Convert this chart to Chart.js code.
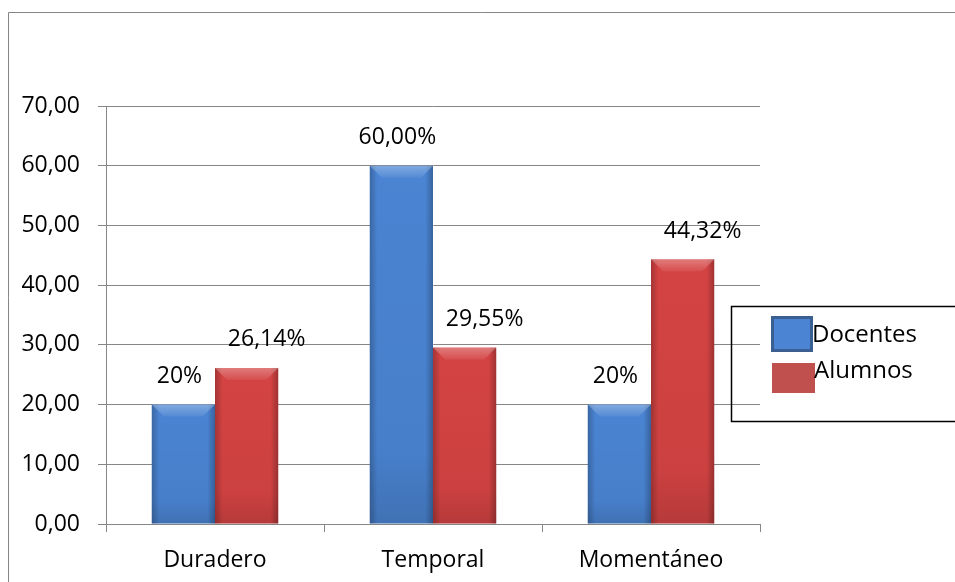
<!DOCTYPE html>
<html>
<head>
<meta charset="utf-8">
<script src="https://cdn.jsdelivr.net/npm/chart.js@4/dist/chart.umd.min.js"></script>
<style>
  body { margin: 0; background: #fff; }
</style>
</head>
<body>
<canvas id="grafico" width="955" height="582"></canvas>
<script>
// Datos
const categorias = ['Duradero', 'Temporal', 'Momentáneo'];
const nombresSeries = ['Docentes', 'Alumnos'];
const docentes = [20, 60, 20];
const alumnos = [26.14, 29.55, 44.32];
const etiquetasDocentes = ['20%', '60,00%', '20%'];
const etiquetasAlumnos = ['26,14%', '29,55%', '44,32%'];
const ticksY = [0, 10, 20, 30, 40, 50, 60, 70];

const fuente = "'Open Sans', sans-serif";
const gris = '#868686';

// Marco exterior gris (solo borde izquierdo y superior visibles)
const marco = {
    id: 'marco',
    beforeDraw(chart) {
        const ctx = chart.ctx;
        ctx.save();
        ctx.strokeStyle = gris;
        ctx.lineWidth = 1;
        ctx.beginPath();
        ctx.moveTo(8.5, chart.height);
        ctx.lineTo(8.5, 12.5);
        ctx.lineTo(chart.width, 12.5);
        ctx.stroke();
        ctx.restore();
    }
};

// Sombreado tipo bisel sobre cada barra
const bisel = {
    id: 'bisel',
    afterDatasetsDraw(chart) {
        const ctx = chart.ctx;
        chart.data.datasets.forEach((ds, di) => {
            chart.getDatasetMeta(di).data.forEach(el => {
                const p = el.getProps(['x', 'y', 'width', 'base'], true);
                const left = p.x - p.width / 2;
                const top = Math.min(p.y, p.base);
                const h = Math.abs(p.base - p.y);
                ctx.save();
                let g = ctx.createLinearGradient(left, 0, left + p.width, 0);
                g.addColorStop(0, 'rgba(0,0,0,0.22)');
                g.addColorStop(0.12, 'rgba(0,0,0,0)');
                g.addColorStop(0.88, 'rgba(0,0,0,0)');
                g.addColorStop(1, 'rgba(0,0,0,0.25)');
                ctx.fillStyle = g;
                ctx.fillRect(left, top, p.width, h);
                let gv = ctx.createLinearGradient(0, top, 0, top + h);
                gv.addColorStop(0, 'rgba(0,0,0,0)');
                gv.addColorStop(0.8, 'rgba(0,0,0,0.04)');
                gv.addColorStop(1, 'rgba(0,0,0,0.14)');
                ctx.fillStyle = gv;
                ctx.fillRect(left, top, p.width, h);
                // bisel superior
                const b = Math.min(12, h / 2);
                ctx.beginPath();
                ctx.moveTo(left, top);
                ctx.lineTo(left + p.width, top);
                ctx.lineTo(left + p.width - b, top + b);
                ctx.lineTo(left + b, top + b);
                ctx.closePath();
                let gt = ctx.createLinearGradient(0, top, 0, top + b);
                gt.addColorStop(0, 'rgba(255,255,255,0.3)');
                gt.addColorStop(1, 'rgba(255,255,255,0.06)');
                ctx.fillStyle = gt;
                ctx.fill();
                ctx.restore();
            });
        });
    }
};

// Etiquetas de valor sobre las barras
const etiquetas = {
    id: 'etiquetas',
    afterDatasetsDraw(chart) {
        const ctx = chart.ctx;
        const textos = [etiquetasDocentes, etiquetasAlumnos];
        const desplaz = [-4, 20];
        ctx.save();
        ctx.font = '23px ' + fuente;
        ctx.fillStyle = '#000';
        ctx.textAlign = 'center';
        ctx.textBaseline = 'middle';
        chart.data.datasets.forEach((ds, di) => {
            chart.getDatasetMeta(di).data.forEach((el, i) => {
                ctx.fillText(textos[di][i], el.x + desplaz[di], el.y - 28);
            });
        });
        ctx.restore();
    }
};

// Leyenda con recuadro negro a la derecha
const leyenda = {
    id: 'leyenda',
    afterDraw(chart) {
        const ctx = chart.ctx;
        const ds = chart.data.datasets;
        ctx.save();
        ctx.strokeStyle = '#000';
        ctx.lineWidth = 1.5;
        ctx.strokeRect(731.5, 306.5, 300, 115);
        // Docentes
        ctx.fillStyle = ds[0].backgroundColor;
        ctx.fillRect(771, 316, 42, 36);
        ctx.strokeStyle = '#3b5f92';
        ctx.lineWidth = 3;
        ctx.strokeRect(772.5, 317.5, 39, 33);
        // Alumnos
        ctx.fillStyle = '#c0504d';
        ctx.fillRect(772, 363, 43, 30);
        ctx.fillStyle = '#000';
        ctx.font = '24px ' + fuente;
        ctx.textBaseline = 'middle';
        ctx.fillText(ds[0].label, 812, 335);
        ctx.fillText(ds[1].label, 814, 371);
        ctx.restore();
    }
};

new Chart(document.getElementById('grafico'), {
    type: 'bar',
    data: {
        labels: categorias,
        datasets: [
            {
                label: nombresSeries[0],
                data: docentes,
                backgroundColor: '#4a84d2',
                categoryPercentage: 0.58,
                barPercentage: 1
            },
            {
                label: nombresSeries[1],
                data: alumnos,
                backgroundColor: '#d44343',
                categoryPercentage: 0.58,
                barPercentage: 1
            }
        ]
    },
    options: {
        responsive: false,
        animation: false,
        layout: { padding: { left: 0, right: 195, top: 106, bottom: 0 } },
        plugins: {
            legend: { display: false },
            tooltip: { enabled: false }
        },
        scales: {
            x: {
                afterFit(scale) { scale.height = 58; },
                grid: {
                    offset: true,
                    drawOnChartArea: false,
                    drawTicks: true,
                    tickLength: 8,
                    color: gris
                },
                border: { color: gris, width: 1 },
                ticks: {
                    color: '#000',
                    padding: 15,
                    font: { family: fuente, size: 23 }
                }
            },
            y: {
                min: 0,
                max: 70,
                afterFit(scale) { scale.width = 106; },
                afterBuildTicks(scale) { scale.ticks = ticksY.map(v => ({ value: v })); },
                grid: {
                    color: gris,
                    lineWidth: 1,
                    tickLength: 8
                },
                border: { color: gris, width: 1 },
                ticks: {
                    color: '#000',
                    padding: 18,
                    font: { family: fuente, size: 23 },
                    callback: v => v.toFixed(2).replace('.', ',')
                }
            }
        }
    },
    plugins: [marco, bisel, etiquetas, leyenda]
});
</script>
</body>
</html>
